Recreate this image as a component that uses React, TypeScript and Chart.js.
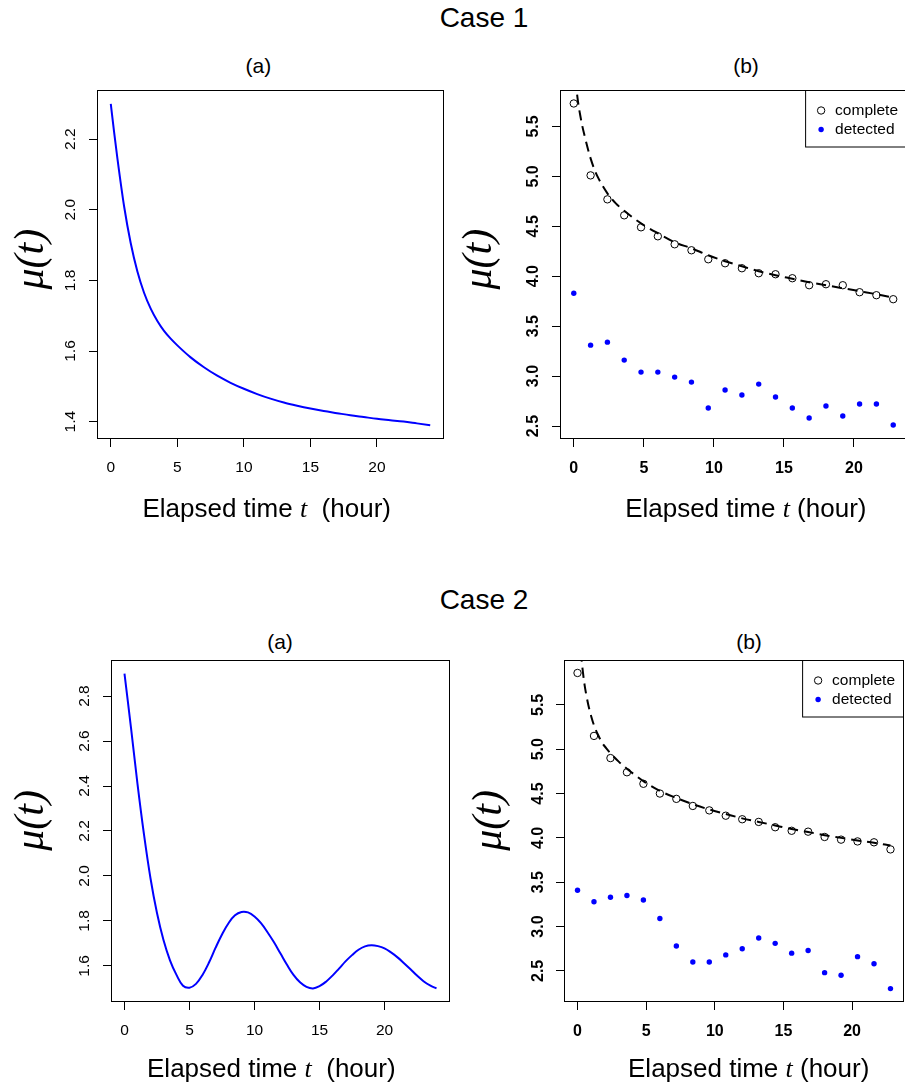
import React, { useEffect, useRef } from "react";
import { Chart, registerables } from "chart.js";

Chart.register(...registerables);

const SANS = '"Liberation Sans", Arial, Helvetica, sans-serif';
const SERIF = '"Liberation Serif", "Times New Roman", serif';

// ---------- Case 1 (a): mu(t) curve ----------
const HOURS_1A = [0, 0.25, 0.5, 1, 1.5, 2, 2.5, 3, 3.5, 4, 4.5, 5, 6, 7, 8, 9, 10, 11, 12, 13, 14, 15, 16, 17, 18, 19, 20, 21, 22, 23, 24];
const MU_1A = [2.30, 2.22, 2.145, 2.01, 1.905, 1.825, 1.765, 1.72, 1.685, 1.657, 1.635, 1.616, 1.582, 1.554, 1.53, 1.51, 1.493, 1.478, 1.465, 1.454, 1.445, 1.437, 1.43, 1.424, 1.418, 1.413, 1.408, 1.404, 1.40, 1.395, 1.39];

// ---------- Case 2 (a): mu(t) curve ----------
const HOURS_2A = [0, 0.5, 1, 1.5, 2, 2.5, 3, 3.5, 4, 4.5, 5, 5.5, 6, 6.5, 7, 7.5, 8, 8.5, 9, 9.5, 10, 10.5, 11, 11.5, 12, 12.5, 13, 13.5, 14, 14.5, 15, 15.5, 16, 16.5, 17, 17.5, 18, 18.5, 19, 19.5, 20, 20.5, 21, 21.5, 22, 22.5, 23, 23.5, 24];
const MU_2A = [2.90, 2.66, 2.41, 2.185, 1.99, 1.835, 1.715, 1.625, 1.56, 1.512, 1.503, 1.52, 1.56, 1.615, 1.68, 1.74, 1.79, 1.825, 1.84, 1.838, 1.82, 1.79, 1.75, 1.705, 1.655, 1.605, 1.56, 1.527, 1.507, 1.50, 1.51, 1.53, 1.557, 1.588, 1.62, 1.648, 1.672, 1.687, 1.692, 1.688, 1.678, 1.66, 1.638, 1.612, 1.585, 1.557, 1.532, 1.513, 1.50];

// ---------- (b) panels: sampled hours ----------
const HOURS_B = [0, 1.2, 2.4, 3.6, 4.8, 6, 7.2, 8.4, 9.6, 10.8, 12, 13.2, 14.4, 15.6, 16.8, 18, 19.2, 20.4, 21.6, 22.8];

// Case 1 (b)
const COMPLETE_1B = [5.73, 5.01, 4.77, 4.61, 4.49, 4.40, 4.32, 4.26, 4.17, 4.13, 4.08, 4.03, 4.02, 3.98, 3.91, 3.92, 3.91, 3.84, 3.81, 3.77];
const DETECTED_1B = [3.83, 3.31, 3.34, 3.16, 3.04, 3.04, 2.99, 2.94, 2.68, 2.86, 2.81, 2.92, 2.79, 2.68, 2.58, 2.70, 2.60, 2.72, 2.72, 2.51];
const FIT_HOURS_1B = [0.15, 0.21, 0.3, 0.45, 0.6, 0.8, 1.0, 1.2, 1.5, 1.8, 2.4, 3.0, 3.6, 4.8, 6, 7.2, 8.4, 9.6, 10.8, 12, 13.2, 14.4, 15.6, 16.8, 18, 19.2, 20.4, 21.6, 22.8];
const FIT_1B = [5.98, 5.86, 5.75, 5.62, 5.51, 5.39, 5.28, 5.18, 5.06, 4.97, 4.83, 4.73, 4.655, 4.53, 4.43, 4.34, 4.28, 4.21, 4.15, 4.10, 4.05, 4.01, 3.975, 3.94, 3.91, 3.88, 3.85, 3.82, 3.785];

// Case 2 (b)
const COMPLETE_2B = [5.86, 5.15, 4.90, 4.74, 4.61, 4.50, 4.44, 4.36, 4.31, 4.25, 4.21, 4.18, 4.12, 4.08, 4.07, 4.01, 3.98, 3.96, 3.95, 3.87];
const DETECTED_2B = [3.41, 3.28, 3.33, 3.35, 3.30, 3.09, 2.78, 2.60, 2.60, 2.68, 2.75, 2.87, 2.81, 2.70, 2.73, 2.48, 2.45, 2.66, 2.58, 2.30];
const FIT_HOURS_2B = [0.25, 0.31, 0.4, 0.5, 0.63, 0.8, 1.0, 1.2, 1.5, 1.8, 2.1, 2.4, 3.0, 3.6, 4.8, 6, 7.2, 8.4, 9.6, 10.8, 12, 13.2, 14.4, 15.6, 16.8, 18, 19.2, 20.4, 21.6, 22.8];
const FIT_2B = [6.10, 5.99, 5.86, 5.74, 5.62, 5.49, 5.37, 5.27, 5.16, 5.07, 5.01, 4.955, 4.86, 4.78, 4.64, 4.53, 4.45, 4.38, 4.32, 4.27, 4.22, 4.18, 4.14, 4.10, 4.066, 4.03, 4.00, 3.97, 3.945, 3.915];

// ---------- ticks ----------
const X_TICKS = [0, 5, 10, 15, 20];
const Y_TICKS_1A = [1.4, 1.6, 1.8, 2.0, 2.2];
const Y_TICKS_2A = [1.6, 1.8, 2.0, 2.2, 2.4, 2.6, 2.8];
const Y_TICKS_B = [2.5, 3.0, 3.5, 4.0, 4.5, 5.0, 5.5];

const LEGEND_LABELS = ["complete", "detected"];

const pts = (xs: number[], ys: number[]) => xs.map((x, i) => ({ x, y: ys[i] }));

const curveDs = (xs: number[], ys: number[], mode: "monotone" | "default") => ({
  data: pts(xs, ys),
  showLine: true,
  borderColor: "#0000ff",
  borderWidth: 2,
  pointRadius: 0,
  fill: false,
  cubicInterpolationMode: mode,
  tension: 0.4,
  clip: 0,
});

const fitDs = (xs: number[], ys: number[]) => ({
  data: pts(xs, ys),
  showLine: true,
  borderColor: "#000000",
  borderWidth: 2,
  borderDash: [10, 6],
  pointRadius: 0,
  fill: false,
  cubicInterpolationMode: "monotone",
  clip: 0,
});

const completeDs = (ys: number[]) => ({
  label: LEGEND_LABELS[0],
  data: pts(HOURS_B, ys),
  showLine: false,
  pointStyle: "circle",
  pointRadius: 3.7,
  pointBorderWidth: 1,
  pointBorderColor: "#000000",
  pointBackgroundColor: "rgba(0,0,0,0)",
  borderColor: "#000000",
  backgroundColor: "rgba(0,0,0,0)",
  clip: 0,
});

const detectedDs = (ys: number[]) => ({
  label: LEGEND_LABELS[1],
  data: pts(HOURS_B, ys),
  showLine: false,
  pointStyle: "circle",
  pointRadius: 2.7,
  pointBorderWidth: 0,
  pointBorderColor: "#0000ff",
  pointBackgroundColor: "#0000ff",
  borderColor: "#0000ff",
  backgroundColor: "#0000ff",
  clip: 0,
});

const boxPlugin = {
  id: "plotBox",
  afterDatasetsDraw(chart: any) {
    const { ctx, chartArea } = chart;
    ctx.save();
    ctx.strokeStyle = "#000";
    ctx.lineWidth = 1;
    ctx.strokeRect(chartArea.left - 0.5, chartArea.top - 0.5, chartArea.right - chartArea.left + 1, chartArea.bottom - chartArea.top + 1);
    ctx.restore();
  },
};

const legendPlugin = {
  id: "insetLegend",
  afterDatasetsDraw(chart: any) {
    const items = chart.data.datasets.filter((d: any) => d.label);
    if (!items.length) return;
    const { ctx, chartArea } = chart;
    ctx.save();
    ctx.font = `15.5px ${SANS}`;
    const tw = Math.max(...items.map((d: any) => ctx.measureText(d.label).width));
    const w = 29 + tw + 8;
    const h = 56.5;
    const x0 = chartArea.right - w;
    const y0 = chartArea.top;
    ctx.fillStyle = "#fff";
    ctx.fillRect(x0, y0, w, h);
    ctx.strokeStyle = "#000";
    ctx.lineWidth = 1;
    ctx.strokeRect(x0 - 0.5, y0 - 0.5, w + 1, h);
    items.forEach((d: any, i: number) => {
      const cy = y0 + 19.5 + i * 19;
      ctx.beginPath();
      ctx.arc(x0 + 15, cy, d.pointRadius, 0, Math.PI * 2);
      if (d.pointBorderWidth > 0) {
        ctx.strokeStyle = d.pointBorderColor;
        ctx.lineWidth = d.pointBorderWidth;
        ctx.stroke();
      } else {
        ctx.fillStyle = d.pointBackgroundColor;
        ctx.fill();
      }
      ctx.fillStyle = "#000";
      ctx.textBaseline = "middle";
      ctx.textAlign = "left";
      ctx.fillText(d.label, x0 + 29, cy + 0.5);
    });
    ctx.restore();
  },
};

type Box = { x: number; y: number; w: number; h: number };
type Area = { l: number; t: number; r: number; b: number };
type PanelSpec = {
  canvas: Box;
  area: Area;
  xRange: [number, number];
  yRange: [number, number];
  yTicks: number[];
  bold: boolean;
  yTickPad: number;
  yTitle: string;
  yTitleCenter: number;
  datasets: any[];
};

function makeConfig(p: PanelSpec): any {
  const tickFont = { family: SANS, size: p.bold ? 16 : 15.5, weight: p.bold ? "bold" : "normal", lineHeight: 1.2 };
  const grid = { display: true, drawOnChartArea: false, drawTicks: true, tickLength: 9, color: "#000", lineWidth: 1 };
  const titleSize = 42;
  return {
    type: "scatter",
    data: { datasets: p.datasets },
    options: {
      responsive: false,
      animation: false,
      events: [],
      layout: {
        padding: { left: 0, top: p.area.t - p.canvas.y, right: p.canvas.x + p.canvas.w - p.area.r, bottom: 0 },
      },
      plugins: { legend: { display: false }, tooltip: { enabled: false }, title: { display: false } },
      scales: {
        x: {
          type: "linear",
          position: "bottom",
          min: p.xRange[0],
          max: p.xRange[1],
          grid,
          border: { display: false },
          ticks: { autoSkip: false, minRotation: 0, maxRotation: 0, padding: 11.5, color: "#000", font: tickFont, callback: (v: any) => String(v) },
          afterBuildTicks: (s: any) => { s.ticks = X_TICKS.map((v) => ({ value: v })); },
          afterFit: (s: any) => { s.height = p.canvas.y + p.canvas.h - p.area.b; },
        },
        y: {
          type: "linear",
          position: "left",
          min: p.yRange[0],
          max: p.yRange[1],
          grid,
          border: { display: false },
          ticks: {
            autoSkip: false, minRotation: 90, maxRotation: 90, crossAlign: "center", padding: p.yTickPad,
            color: "#000", font: tickFont, callback: (v: any) => Number(v).toFixed(1),
          },
          title: {
            display: true,
            text: p.yTitle,
            color: "#000",
            font: { family: SERIF, style: "italic", size: titleSize, lineHeight: 1 },
            padding: { top: p.yTitleCenter - 2.7 - p.canvas.x - titleSize / 2, bottom: 0 },
          },
          afterBuildTicks: (s: any) => { s.ticks = p.yTicks.map((v) => ({ value: v })); },
          afterFit: (s: any) => { s.width = p.area.l - p.canvas.x; },
        },
      },
    },
    plugins: [boxPlugin, legendPlugin],
  };
}

const PANELS: PanelSpec[] = [
  {
    canvas: { x: 0, y: 40, w: 450, h: 460 },
    area: { l: 98, t: 91, r: 443, b: 438 },
    xRange: [-0.96, 24.96],
    yRange: [1.3536, 2.3364],
    yTicks: Y_TICKS_1A,
    bold: false,
    yTickPad: 7.2,
    yTitle: " \u03bc(t)",
    yTitleCenter: 35,
    datasets: [curveDs(HOURS_1A, MU_1A, "monotone")],
  },
  {
    canvas: { x: 450, y: 40, w: 465, h: 460 },
    area: { l: 561, t: 91, r: 906, b: 438 },
    xRange: [-0.912, 23.712],
    yRange: [2.38, 5.855],
    yTicks: Y_TICKS_B,
    bold: true,
    yTickPad: 7.5,
    yTitle: " \u03bc(t)",
    yTitleCenter: 483,
    datasets: [fitDs(FIT_HOURS_1B, FIT_1B), completeDs(COMPLETE_1B), detectedDs(DETECTED_1B)],
  },
  {
    canvas: { x: 0, y: 610, w: 450, h: 476 },
    area: { l: 112, t: 661, r: 449, b: 1001 },
    xRange: [-0.96, 24.96],
    yRange: [1.444, 2.956],
    yTicks: Y_TICKS_2A,
    bold: false,
    yTickPad: 7.2,
    yTitle: "  \u03bc(t)",
    yTitleCenter: 35,
    datasets: [curveDs(HOURS_2A, MU_2A, "default")],
  },
  {
    canvas: { x: 450, y: 610, w: 465, h: 476 },
    area: { l: 565, t: 661, r: 903, b: 1001 },
    xRange: [-0.912, 23.712],
    yRange: [2.16, 5.995],
    yTicks: Y_TICKS_B,
    bold: true,
    yTickPad: 6.5,
    yTitle: "  \u03bc(t)",
    yTitleCenter: 493,
    datasets: [fitDs(FIT_HOURS_2B, FIT_2B), completeDs(COMPLETE_2B), detectedDs(DETECTED_2B)],
  },
];

function PanelChart({ spec }: { spec: PanelSpec }) {
  const ref = useRef<HTMLCanvasElement | null>(null);
  useEffect(() => {
    if (!ref.current) return;
    const chart = new Chart(ref.current, makeConfig(spec));
    return () => chart.destroy();
  }, [spec]);
  const c = spec.canvas;
  return (
    <canvas
      ref={ref}
      width={c.w}
      height={c.h}
      style={{ position: "absolute", left: c.x, top: c.y, width: c.w, height: c.h }}
    />
  );
}

function Txt({ x, base, size, children }: { x: number; base: number; size: number; children: any }) {
  return (
    <div
      style={{
        position: "absolute",
        left: x,
        top: base - size * 0.8465,
        transform: "translateX(-50%)",
        fontFamily: SANS,
        fontSize: size,
        lineHeight: `${size}px`,
        whiteSpace: "pre",
        color: "#000",
      }}
    >
      {children}
    </div>
  );
}

const T = () => <span style={{ fontFamily: SERIF, fontStyle: "italic" }}>t</span>;

export default function App() {
  return (
    <div style={{ position: "fixed", left: 0, top: 0, width: 905, height: 1086, overflow: "hidden", background: "#fff" }}>
      <Txt x={484} base={27.3} size={28}>Case 1</Txt>
      <Txt x={484} base={610} size={28}>Case 2</Txt>
      <Txt x={258.3} base={72.9} size={21}>(a)</Txt>
      <Txt x={746} base={72.9} size={21}>(b)</Txt>
      <Txt x={280} base={648.3} size={21}>(a)</Txt>
      <Txt x={749} base={648.3} size={21}>(b)</Txt>
      {PANELS.map((p, i) => (
        <PanelChart key={i} spec={p} />
      ))}
      <Txt x={266.7} base={516.7} size={26}>Elapsed time <T />{"  (hour)"}</Txt>
      <Txt x={745.8} base={517.5} size={26}>Elapsed time <T />{" (hour)"}</Txt>
      <Txt x={271.3} base={1076.7} size={26}>Elapsed time <T />{"  (hour)"}</Txt>
      <Txt x={748.7} base={1076.7} size={26}>Elapsed time <T />{" (hour)"}</Txt>
    </div>
  );
}
